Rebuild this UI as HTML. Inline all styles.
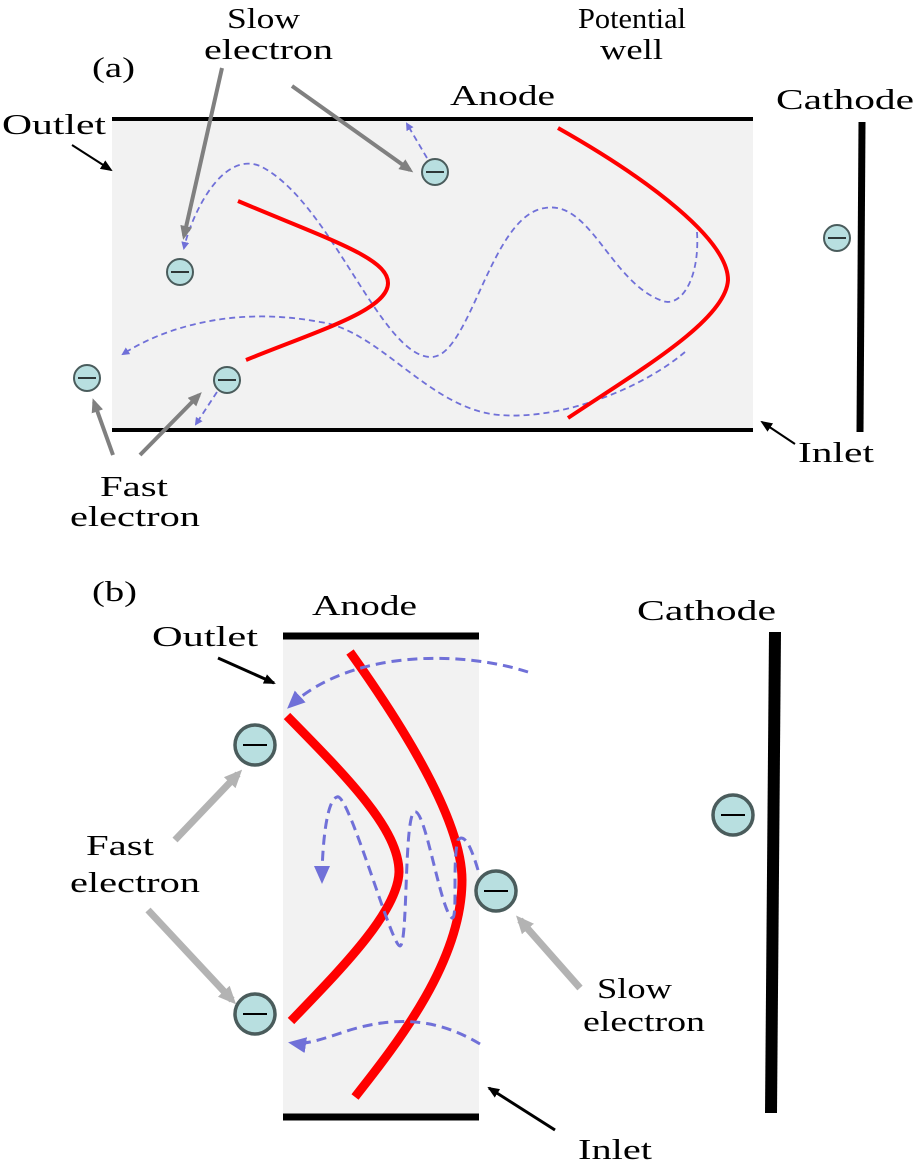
<!DOCTYPE html>
<html><head><style>html,body{margin:0;padding:0;background:#fff}svg{display:block}text{font-family:"Liberation Serif",serif;fill:#000}</style></head><body>
<svg width="914" height="1169" viewBox="0 0 914 1169" xmlns="http://www.w3.org/2000/svg">
<defs>
<marker id="ab" markerWidth="8" markerHeight="8" refX="6" refY="4" orient="auto" markerUnits="userSpaceOnUse"><path d="M0,0 L8,4 L0,8 Z" fill="#7070d8"/></marker>
<marker id="abb" markerWidth="18" markerHeight="16" refX="14" refY="8" orient="auto" markerUnits="userSpaceOnUse"><path d="M0,0 L18,8 L0,16 Z" fill="#7070d8"/></marker>
<marker id="ag" markerWidth="14" markerHeight="12" refX="10" refY="6" orient="auto" markerUnits="userSpaceOnUse"><path d="M0,0 L14,6 L0,12 Z" fill="#808080"/></marker>
<marker id="ag2" markerWidth="18" markerHeight="16" refX="12" refY="8" orient="auto" markerUnits="userSpaceOnUse"><path d="M0,0 L18,8 L0,16 Z" fill="#b3b3b3"/></marker>
<marker id="ak" markerWidth="12" markerHeight="10" refX="10" refY="5" orient="auto" markerUnits="userSpaceOnUse"><path d="M0,0 L12,5 L0,10 Z" fill="#000"/></marker>
<g id="e"><circle r="13" fill="#b8dfe0" stroke="#4a5c5c" stroke-width="2"/><line x1="-9" x2="9" y1="0" y2="0" stroke="#000" stroke-width="1.5"/></g>
<g id="E"><circle r="20" fill="#b8dfe0" stroke="#4a5c5c" stroke-width="3.5"/><line x1="-12" x2="12" y1="0" y2="0" stroke="#000" stroke-width="2"/></g>
</defs>
<rect x="112" y="119" width="641" height="311" fill="#f2f2f2"/>
<line x1="112" y1="119" x2="753" y2="119" stroke="#000" stroke-width="4"/>
<line x1="112" y1="430" x2="753" y2="430" stroke="#000" stroke-width="4"/>
<line x1="862" y1="122" x2="860" y2="432" stroke="#000" stroke-width="7"/>
<g fill="none" stroke="#7070d8" stroke-width="1.8" stroke-dasharray="6,4">
<path d="M697,232 C700,280 680,310 660,300 C610,280 590,200 545,208 C490,215 470,360 430,357 C380,355 330,200 260,166 C220,150 190,220 184,248" marker-end="url(#ab)"/>
<path d="M685,352 C640,390 560,420 500,415 C430,410 380,330 320,322 C230,305 160,330 123,354" marker-end="url(#ab)"/>
<path d="M427,158 L407,124" marker-end="url(#ab)"/>
<path d="M217,392 L196,424" marker-end="url(#ab)"/>
</g>
<g fill="none" stroke="#ff0000" stroke-width="4">
<path d="M238,201 C330,240 388,258 388,283 C388,310 320,330 246,360"/>
<path d="M558,128 C650,180 728,240 728,280 C726,320 640,370 568,418"/>
</g>
<g stroke="#808080" stroke-width="4">
<line x1="222" y1="68" x2="184" y2="236" marker-end="url(#ag)"/>
<line x1="292" y1="86" x2="410" y2="170" marker-end="url(#ag)"/>
<line x1="140" y1="455" x2="199" y2="395" marker-end="url(#ag)"/>
<line x1="113" y1="455" x2="94" y2="402" marker-end="url(#ag)"/>
</g>
<g stroke="#000" stroke-width="2">
<line x1="72" y1="145" x2="111" y2="170" marker-end="url(#ak)"/>
<line x1="795" y1="444" x2="762" y2="422" marker-end="url(#ak)"/>
</g>
<use href="#e" x="435" y="172"/><use href="#e" x="180" y="272"/><use href="#e" x="87" y="378"/><use href="#e" x="227" y="380"/><use href="#e" x="837" y="238"/>
<g font-size="29" lengthAdjust="spacingAndGlyphs">
<text x="92" y="77" textLength="43" lengthAdjust="spacingAndGlyphs">(a)</text>
<text x="227" y="28" textLength="73" lengthAdjust="spacingAndGlyphs">Slow</text><text x="204" y="59" textLength="129" lengthAdjust="spacingAndGlyphs">electron</text>
<text x="450" y="105" textLength="105" lengthAdjust="spacingAndGlyphs">Anode</text>
<text x="578" y="28" textLength="108" lengthAdjust="spacingAndGlyphs">Potential</text><text x="600" y="59" textLength="63" lengthAdjust="spacingAndGlyphs">well</text>
<text x="776" y="109" textLength="138" lengthAdjust="spacingAndGlyphs">Cathode</text>
<text x="2" y="134" textLength="104" lengthAdjust="spacingAndGlyphs">Outlet</text>
<text x="798" y="462" textLength="76" lengthAdjust="spacingAndGlyphs">Inlet</text>
<text x="100" y="496" textLength="68" lengthAdjust="spacingAndGlyphs">Fast</text><text x="70" y="526" textLength="130" lengthAdjust="spacingAndGlyphs">electron</text>
</g>
<rect x="283" y="636" width="196" height="481" fill="#f2f2f2"/>
<line x1="283" y1="636" x2="479" y2="636" stroke="#000" stroke-width="7"/>
<line x1="283" y1="1117" x2="479" y2="1117" stroke="#000" stroke-width="7"/>
<line x1="775" y1="632" x2="771" y2="1113" stroke="#000" stroke-width="12"/>
<g fill="none" stroke="#ff0000" stroke-width="9">
<path d="M287,716 C350,780 399,830 399,872 C398,912 340,970 291,1021"/>
<path d="M350,652 C420,750 462,830 462,880 C462,960 400,1040 355,1097"/>
</g>
<g fill="none" stroke="#7070d8" stroke-width="3" stroke-dasharray="10,6">
<path d="M528,672 C460,650 350,650 290,706" marker-end="url(#abb)"/>
<path d="M480,1044 C440,1020 400,1015 350,1030 C320,1040 305,1045 292,1043" marker-end="url(#abb)"/>
<path d="M478,870 C472,850 465,832 458,840 C452,860 458,920 452,918 C440,910 425,805 414,812 C404,820 408,945 400,946 C392,948 348,790 337,797 C326,800 322,850 322,880" marker-end="url(#abb)"/>
</g>
<g stroke="#b3b3b3" stroke-width="7">
<line x1="175" y1="840" x2="238" y2="774" marker-end="url(#ag2)"/>
<line x1="148" y1="910" x2="232" y2="1000" marker-end="url(#ag2)"/>
<line x1="580" y1="988" x2="520" y2="920" marker-end="url(#ag2)"/>
</g>
<g stroke="#000" stroke-width="3">
<line x1="218" y1="658" x2="274" y2="683" marker-end="url(#ak)"/>
<line x1="555" y1="1130" x2="489" y2="1088" marker-end="url(#ak)"/>
</g>
<use href="#E" x="255" y="745"/><use href="#E" x="255" y="1014"/><use href="#E" x="496" y="891"/><use href="#E" x="733" y="815"/>
<g font-size="29">
<text x="92" y="601" textLength="45" lengthAdjust="spacingAndGlyphs">(b)</text>
<text x="312" y="615" textLength="105" lengthAdjust="spacingAndGlyphs">Anode</text>
<text x="152" y="646" textLength="106" lengthAdjust="spacingAndGlyphs">Outlet</text>
<text x="86" y="855" textLength="68" lengthAdjust="spacingAndGlyphs">Fast</text><text x="70" y="892" textLength="130" lengthAdjust="spacingAndGlyphs">electron</text>
<text x="597" y="998" textLength="75" lengthAdjust="spacingAndGlyphs">Slow</text><text x="583" y="1031" textLength="122" lengthAdjust="spacingAndGlyphs">electron</text>
<text x="637" y="620" textLength="139" lengthAdjust="spacingAndGlyphs">Cathode</text>
<text x="578" y="1159" textLength="74" lengthAdjust="spacingAndGlyphs">Inlet</text>
</g>
</svg>
</body></html>
